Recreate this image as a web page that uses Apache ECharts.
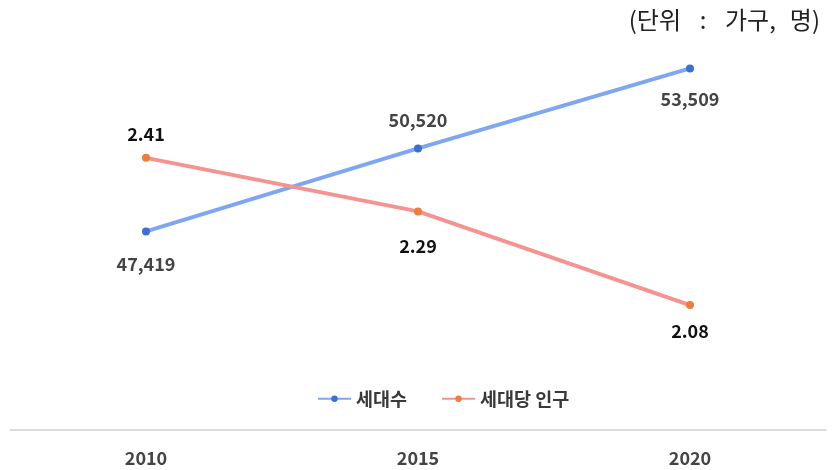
<!DOCTYPE html>
<html><head><meta charset="utf-8">
<script src="https://cdn.jsdelivr.net/npm/echarts@6/dist/echarts.min.js"></script>
<style>html,body{margin:0;padding:0;background:#fff}#c{width:834px;height:470px}</style>
</head><body><div id="c"></div>
<script>
const years = ['2010', '2015', '2020'];
const households = [47419, 50520, 53509];
const perHousehold = [2.41, 2.29, 2.08];
const seriesNames = ['세대수', '세대당 인구'];
const unitParts = ['(단위', ' : ', '가구,', ' ', '명)'];

const hhLabel = [['bottom', 20], ['top', 15], ['bottom', 18]];
const phLabel = [['top', 11], ['bottom', 22], ['bottom', 13]];

const fontFam = '"Noto Sans CJK KR", "Noto Sans", sans-serif';
const chart = echarts.init(document.getElementById('c'));
chart.setOption({
  animation: false,
  grid: {left: 10, right: 8, top: 28.5, bottom: 40},
  legend: {
    data: seriesNames, bottom: 57, left: 312, itemWidth: 33, itemHeight: 8, itemGap: 34,
    textStyle: {fontSize: 18.5, color: '#3a3a3a', fontWeight: 'bold', fontFamily: fontFam}
  },
  graphic: [{
    type: 'text', right: 14, top: 8,
    style: {
      text: '{a|' + unitParts[0] + '}{b|' + unitParts[1] + '}{a|' + unitParts[2] + '}{c|' + unitParts[3] + '}{a|' + unitParts[4] + '}',
      fontSize: 24, fill: '#222', fontFamily: fontFam,
      rich: {
        a: {fontSize: 24, color: '#222', fontFamily: fontFam},
        b: {fontSize: 24, color: '#222', fontFamily: fontFam, width: 44, align: 'center'},
        c: {fontSize: 24, color: '#222', fontFamily: fontFam, width: 14}
      }
    }
  }],
  xAxis: {
    type: 'category', data: years, boundaryGap: true,
    axisLine: {lineStyle: {color: '#d0d0d0', width: 1.5}},
    axisTick: {show: false},
    axisLabel: {margin: 19, fontSize: 18, fontWeight: 'bold', color: '#444', fontFamily: fontFam}
  },
  yAxis: [
    {type: 'value', min: 40000, max: 55000, show: false, splitLine: {show: false}},
    {type: 'value', min: 1.8, max: 2.7, show: false, splitLine: {show: false}}
  ],
  series: [
    {
      name: seriesNames[0], type: 'line', yAxisIndex: 0,
      symbol: 'circle', symbolSize: 8,
      lineStyle: {color: '#7ea6f2', width: 4},
      itemStyle: {color: '#3a6fd8'},
      data: households.map((v, i) => ({
        value: v,
        label: {show: true, position: hhLabel[i][0], distance: hhLabel[i][1],
          formatter: p => p.value.toLocaleString('en-US'),
          fontSize: 18, fontWeight: 'bold', color: '#444', fontFamily: fontFam}
      }))
    },
    {
      name: seriesNames[1], type: 'line', yAxisIndex: 1,
      symbol: 'circle', symbolSize: 8,
      lineStyle: {color: '#f4938f', width: 4},
      itemStyle: {color: '#ef7b3c'},
      data: perHousehold.map((v, i) => ({
        value: v,
        label: {show: true, position: phLabel[i][0], distance: phLabel[i][1],
          formatter: p => p.value.toFixed(2),
          fontSize: 18, fontWeight: 'bold', color: '#111', fontFamily: fontFam}
      }))
    }
  ]
});
</script></body></html>
